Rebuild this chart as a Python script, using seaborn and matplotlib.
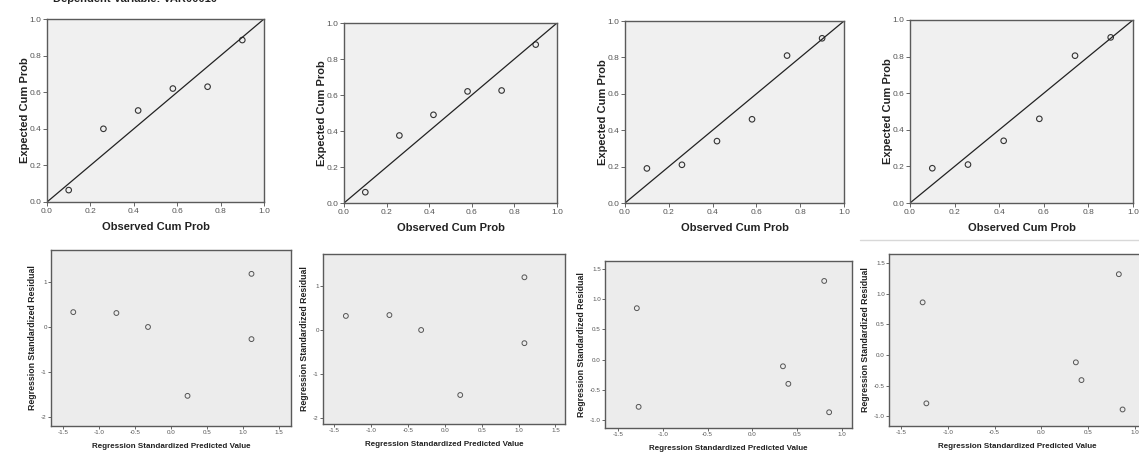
import matplotlib
matplotlib.use('Agg')
import matplotlib.pyplot as plt
import pandas as pd
import seaborn as sns

# P-P plots (top row): observed vs expected cumulative probability
observed_cum = [0.10, 0.26, 0.42, 0.58, 0.74, 0.90]
expected_cum_1 = [0.065, 0.40, 0.50, 0.62, 0.63, 0.885]
expected_cum_2 = [0.06, 0.375, 0.49, 0.62, 0.625, 0.88]
expected_cum_3 = [0.19, 0.21, 0.34, 0.46, 0.81, 0.905]
expected_cum_4 = [0.19, 0.21, 0.34, 0.46, 0.805, 0.905]

# residual scatterplots (bottom row)
pred_5 = [-1.36, -0.76, -0.32, 0.23, 1.12, 1.12]
resid_5 = [0.33, 0.31, 0.00, -1.53, 1.18, -0.27]
pred_6 = [-1.34, -0.75, -0.32, 0.21, 1.08, 1.08]
resid_6 = [0.32, 0.34, 0.00, -1.48, 1.20, -0.30]
pred_7 = [-1.29, -1.27, 0.34, 0.40, 0.80, 0.855]
resid_7 = [0.85, -0.78, -0.11, -0.40, 1.30, -0.87]
pred_8 = [-1.27, -1.23, 0.37, 0.43, 0.83, 0.87]
resid_8 = [0.86, -0.79, -0.12, -0.41, 1.32, -0.89]

pp_ticks = [0.0, 0.2, 0.4, 0.6, 0.8, 1.0]
x_ticks_wide = [-1.5, -1.0, -0.5, 0.0, 0.5, 1.0, 1.5]
x_ticks_narrow = [-1.5, -1.0, -0.5, 0.0, 0.5, 1.0]
y_ticks_int = [-2, -1, 0, 1]
y_ticks_half = [-1.0, -0.5, 0.0, 0.5, 1.0, 1.5]

sns.set_style('ticks')
plt.rcParams['font.family'] = ['Liberation Sans', 'DejaVu Sans']

W, H = 1139, 454
fig = plt.figure(figsize=(W / 100, H / 100), dpi=100)


def px_axes(x0, y0, x1, y1):
    return fig.add_axes([x0 / W, 1 - y1 / H, (x1 - x0) / W, (y1 - y0) / H])


def style_axes(ax, face, tick_size):
    ax.set_facecolor(face)
    for s in ax.spines.values():
        s.set_visible(True)
        s.set_color('#5a5a5a')
        s.set_linewidth(1.0)
    ax.tick_params(length=3, width=0.7, colors='#666666', labelsize=tick_size,
                   labelcolor='#555555', pad=1)


# top row
top_boxes = [(47, 19, 264, 202), (344, 23, 557, 203), (625, 21, 844, 203), (910, 20, 1133, 203)]
top_data = [expected_cum_1, expected_cum_2, expected_cum_3, expected_cum_4]
for box, exp in zip(top_boxes, top_data):
    ax = px_axes(*box)
    style_axes(ax, '#f0f0f0', 6)
    df = pd.DataFrame({'obs': observed_cum, 'exp': exp})
    ax.plot([0, 1], [0, 1], color='#222222', lw=0.9)
    sns.scatterplot(data=df, x='obs', y='exp', ax=ax, marker='o', s=16,
                    facecolor='none', edgecolor='#333333', linewidth=0.8)
    ax.set_xlim(0, 1)
    ax.set_ylim(0, 1)
    ax.set_xticks(pp_ticks)
    ax.set_yticks(pp_ticks)
    ax.set_xticklabels([f'{t:.1f}' for t in pp_ticks])
    ax.set_yticklabels([f'{t:.1f}' for t in pp_ticks])
    ax.set_xlabel('Observed Cum Prob', fontsize=8, fontweight='bold', color='#222222', labelpad=5)
    ax.set_ylabel('Expected Cum Prob', fontsize=8, fontweight='bold', color='#222222', labelpad=0)

# bottom row
bottom_boxes = [(51, 250, 291, 426), (323, 254, 565, 424), (605, 261, 852, 428), (889, 254, 1145, 426)]
bottom_data = [(pred_5, resid_5), (pred_6, resid_6), (pred_7, resid_7), (pred_8, resid_8)]
xlims = [(-1.67, 1.67), (-1.65, 1.63), (-1.645, 1.11), (-1.63, 1.11)]
ylims = [(-2.2, 1.71), (-2.14, 1.73), (-1.13, 1.63), (-1.16, 1.65)]
for i, (box, (px, ry)) in enumerate(zip(bottom_boxes, bottom_data)):
    ax = px_axes(*box)
    style_axes(ax, '#ececec', 4.5)
    df = pd.DataFrame({'pred': px, 'resid': ry})
    sns.scatterplot(data=df, x='pred', y='resid', ax=ax, marker='o', s=12,
                    facecolor='none', edgecolor='#555555', linewidth=0.7)
    ax.set_xlim(*xlims[i])
    ax.set_ylim(*ylims[i])
    if i < 2:
        ax.set_xticks(x_ticks_wide)
        ax.set_xticklabels([f'{t:.1f}' for t in x_ticks_wide])
        ax.set_yticks(y_ticks_int)
        ax.set_yticklabels([str(t) for t in y_ticks_int])
    else:
        ax.set_xticks(x_ticks_narrow)
        ax.set_xticklabels([f'{t:.1f}' for t in x_ticks_narrow])
        ax.set_yticks(y_ticks_half)
        ax.set_yticklabels([f'{t:.1f}' for t in y_ticks_half])
    ax.tick_params(length=2)
    ax.set_xlabel('Regression Standardized Predicted Value', fontsize=5.8, fontweight='bold',
                  color='#222222', labelpad=6)
    ax.set_ylabel('Regression Standardized Residual', fontsize=6.3, fontweight='bold',
                  color='#222222', labelpad=3)

# clipped title of the first chart and a separator line
fig.text(135 / W, 1 + 1 / H, 'Dependent Variable: VAR00010', fontsize=8, fontweight='bold',
         color='#222222', ha='center', va='center')
fig.add_artist(plt.Line2D([860 / W, 1.0], [1 - 240 / H, 1 - 240 / H], color='#d8d8d8', lw=1))

fig.savefig('out.png', dpi=100, facecolor='white')
